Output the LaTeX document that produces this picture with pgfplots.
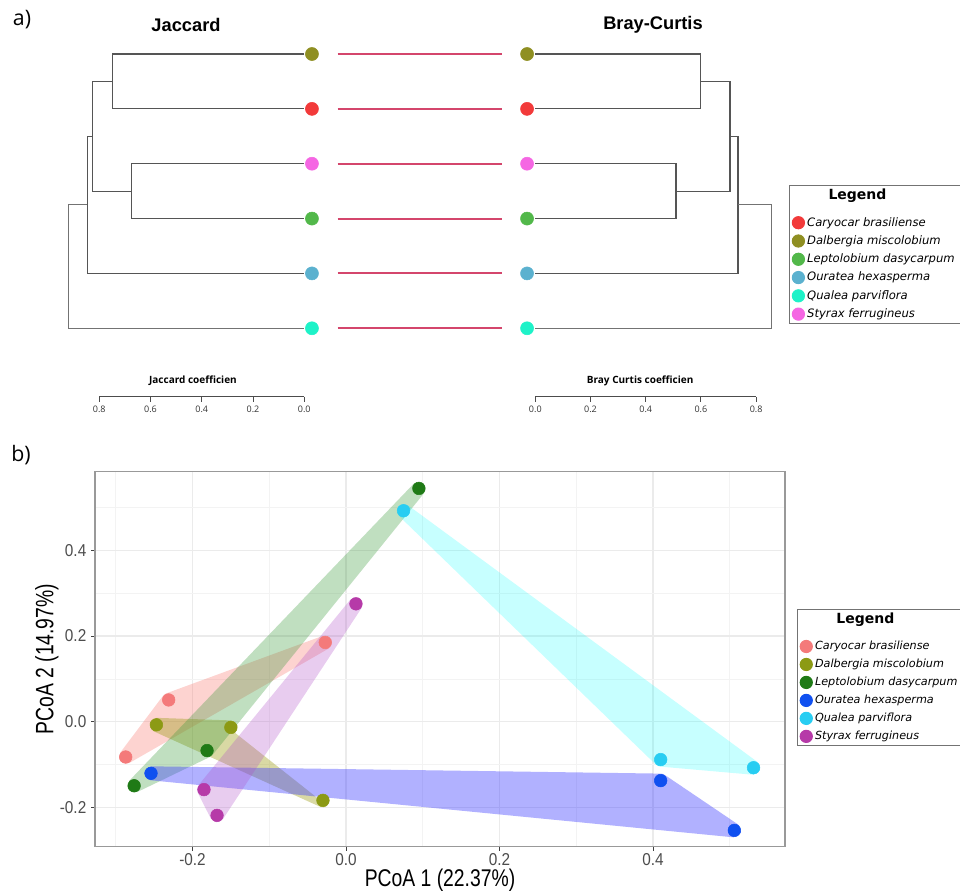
\documentclass[border=0pt]{standalone}
\usepackage{graphicx}
\usepackage{pgfplots}
\pgfplotsset{compat=1.18}
\usepackage{fontspec}
\setmainfont{Liberation Sans}
\newfontfamily\opensans{Open Sans}
\newfontfamily\dejavu{DejaVu Sans}[ItalicFont={DejaVu Sans Oblique},BoldFont={DejaVu Sans Bold}]

% top (dendrogram) colours
\definecolor{tcar}{HTML}{F23A3A}
\definecolor{tdal}{HTML}{8F8F22}
\definecolor{tlep}{HTML}{52B84A}
\definecolor{tour}{HTML}{5BB1CF}
\definecolor{tqua}{HTML}{1EF2C8}
\definecolor{tsty}{HTML}{F566E3}
\definecolor{redline}{HTML}{D4466C}
\definecolor{dendro}{HTML}{555555}
% bottom (PCoA) colours
\definecolor{bcar}{HTML}{F47A7A}
\definecolor{bdal}{HTML}{8C9A14}
\definecolor{blep}{HTML}{1F7A16}
\definecolor{bour}{HTML}{1050F0}
\definecolor{bqua}{HTML}{28CDF2}
\definecolor{bsty}{HTML}{B63AA8}
\definecolor{fcar}{HTML}{F8766D}
\definecolor{fdal}{HTML}{9A9A10}
\definecolor{flep}{HTML}{3C9A3C}
\definecolor{four}{HTML}{3B3BFF}
\definecolor{fqua}{HTML}{00FFFF}
\definecolor{fsty}{HTML}{B050C8}
\definecolor{gridmaj}{HTML}{EBEBEB}
\definecolor{gridmin}{HTML}{F3F3F3}

\pgfplotsset{
  dendro/.style={color=dendro, line width=0.9pt, forget plot},
  rline/.style={color=redline, line width=1.4pt, forget plot},
  leaf/.style={only marks, mark=*, mark size=4.9pt, mark options={draw=none, fill=#1}, color=#1},
  pt/.style={only marks, mark=*, mark size=4.75pt, mark options={draw=none, fill=#1}, color=#1},
  hull/.style 2 args={fill=#1, fill opacity=#2, draw=none, forget plot},
  dlegend/.style={
    legend cell align=left,
    legend image code/.code={\draw[##1, mark size=4.6pt] plot coordinates {(0pt,0pt)};},
    legend style={draw=black!55, line width=0.7pt, fill=white, inner xsep=2pt, inner ysep=0.8pt,
      row sep=1.6pt, font=\dejavu\itshape\fontsize{8.7}{9.5}\selectfont,
      /tikz/every even column/.append style={column sep=2.5pt}},
  },
  dscale/.style={
    scale only axis, clip=false,
    axis x line=bottom, axis y line=none,
    xmin=0, xmax=0.8, ymin=-0.247, ymax=6,
    xtick={0,0.2,0.4,0.6,0.8}, tick align=outside, major tick length=3.75pt,
    x axis line style={-, line width=0.7pt, color=black!70},
    xtick style={color=black!70, line width=0.7pt},
    xticklabel style={font=\opensans\fontsize{6.75}{8}\selectfont, color=black!80},
    /pgf/number format/fixed, /pgf/number format/fixed zerofill,
    /pgf/number format/precision=1, /pgf/number format/assume math mode=true,
    xlabel style={font=\opensans\bfseries\fontsize{7.5}{9}\selectfont,
      at={(axis description cs:0.5,0)}, anchor=center, yshift=11.8pt},
  },
}
\newcommand{\legtitle}{\hspace*{16pt}\raisebox{6pt}{\normalfont\dejavu\bfseries\fontsize{10.5}{12}\selectfont Legend}}

\begin{document}
\begin{tikzpicture}
\useasboundingbox (0pt,0pt) rectangle (720pt,-667.5pt);

\node[font=\opensans\fontsize{16}{18}\selectfont] at (16.5pt,-15pt) {a)};
\node[font=\opensans\fontsize{16}{18}\selectfont] at (15.75pt,-341.25pt) {b)};
\node[font=\bfseries\fontsize{13.7}{16}\selectfont] at (139.5pt,-18.75pt) {Jaccard};
\node[font=\bfseries\fontsize{13.7}{16}\selectfont] at (489.75pt,-18.75pt) {Bray-Curtis};

% ---------------- Jaccard dendrogram ----------------
\begin{axis}[dscale,
  at={(228.2pt,-297.5pt)}, anchor=south east,
  width=153.75pt, height=257pt, x dir=reverse,
  xlabel={Jaccard coefficien}, xlabel style={xshift=-6.6pt}]
\addplot[dendro] coordinates {(0,6)(0.749,6)(0.749,5)(0,5)};
\addplot[dendro] coordinates {(0,4)(0.675,4)(0.675,3)(0,3)};
\addplot[dendro] coordinates {(0.749,5.5)(0.827,5.5)(0.827,3.5)(0.675,3.5)};
\addplot[dendro] coordinates {(0.827,4.5)(0.847,4.5)(0.847,2)(0,2)};
\addplot[dendro, line width=0.6pt, color=black!55] coordinates {(0.847,3.25)(0.919,3.25)(0.919,1)(0,1)};
\addplot[rline] coordinates {(-0.130,6)(-0.773,6)};
\addplot[rline] coordinates {(-0.130,5)(-0.773,5)};
\addplot[rline] coordinates {(-0.130,4)(-0.773,4)};
\addplot[rline] coordinates {(-0.130,3)(-0.773,3)};
\addplot[rline] coordinates {(-0.130,2)(-0.773,2)};
\addplot[rline] coordinates {(-0.130,1)(-0.773,1)};
\addplot[leaf=tdal] coordinates {(-0.03,6)};
\addplot[leaf=tcar] coordinates {(-0.03,5)};
\addplot[leaf=tsty] coordinates {(-0.03,4)};
\addplot[leaf=tlep] coordinates {(-0.03,3)};
\addplot[leaf=tour] coordinates {(-0.03,2)};
\addplot[leaf=tqua] coordinates {(-0.03,1)};
\end{axis}

% ---------------- Bray-Curtis dendrogram ----------------
\begin{axis}[dscale, dlegend,
  at={(401.5pt,-297.5pt)}, anchor=south west,
  width=165.6pt, height=257pt,
  xlabel={Bray Curtis coefficien}, xlabel style={xshift=-4.2pt},
  legend style={at={(1.1495,0.6177)}, anchor=north west}]
\addplot[dendro] coordinates {(0,6)(0.599,6)(0.599,5)(0,5)};
\addplot[dendro] coordinates {(0,4)(0.510,4)(0.510,3)(0,3)};
\addplot[dendro] coordinates {(0.599,5.5)(0.705,5.5)(0.705,3.5)(0.510,3.5)};
\addplot[dendro] coordinates {(0.705,4.5)(0.734,4.5)(0.734,2)(0,2)};
\addplot[dendro, line width=0.6pt, color=black!55] coordinates {(0.734,3.25)(0.856,3.25)(0.856,1)(0,1)};
\addlegendimage{empty legend}
\addlegendentry{\legtitle}
\addplot[leaf=tcar] coordinates {(-0.03,5)}; \addlegendentry{Caryocar brasiliense}
\addplot[leaf=tdal] coordinates {(-0.03,6)}; \addlegendentry{Dalbergia miscolobium}
\addplot[leaf=tlep] coordinates {(-0.03,3)}; \addlegendentry{Leptolobium dasycarpum}
\addplot[leaf=tour] coordinates {(-0.03,2)}; \addlegendentry{Ouratea hexasperma}
\addplot[leaf=tqua] coordinates {(-0.03,1)}; \addlegendentry{Qualea parviflora}
\addplot[leaf=tsty] coordinates {(-0.03,4)}; \addlegendentry{Styrax ferrugineus}
\end{axis}

% ---------------- PCoA ----------------
\begin{axis}[dlegend,
  at={(71.25pt,-635pt)}, anchor=south west, scale only axis,
  width=517.5pt, height=281.25pt,
  xmin=-0.327, xmax=0.572, ymin=-0.291, ymax=0.583,
  xtick={-0.2,0,0.2,0.4}, ytick={-0.2,0,0.2,0.4},
  minor xtick={-0.3,-0.1,0.1,0.3,0.5}, minor ytick={-0.1,0.1,0.3,0.5},
  xtick pos=lower, ytick pos=left,
  grid=both,
  major grid style={color=gridmaj, line width=0.9pt},
  minor grid style={color=gridmin, line width=0.5pt},
  axis line style={color=black!40, line width=0.8pt},
  tick align=outside, major tick length=3pt, minor tick length=0pt,
  tick style={color=black!75, line width=0.6pt},
  ticklabel style={font=\fontsize{11.5}{13}\selectfont, color=black!70},
  xticklabel style={yshift=1.5pt},
  /pgf/number format/fixed, /pgf/number format/fixed zerofill,
  /pgf/number format/precision=1, /pgf/number format/assume math mode=true,
  xticklabel={\scalebox{1}[1.12]{\pgfmathprintnumber{\tick}}},
  yticklabel={\scalebox{1}[1.12]{\pgfmathprintnumber{\tick}}},
  xlabel={\scalebox{1}[1.25]{PCoA 1 (22.37\%)}},
  xlabel style={font=\fontsize{14.5}{17}\selectfont, at={(axis description cs:0.5,0)}, anchor=center, yshift=-25pt},
  ylabel={\scalebox{1}[1.3]{PCoA 2 (14.97\%)}},
  ylabel style={font=\fontsize{14.5}{17}\selectfont, at={(axis description cs:-0.0696,0.5)}, anchor=center},
  legend style={at={(1.0174,0.634)}, anchor=north west, font=\dejavu\itshape\fontsize{8.4}{9.5}\selectfont}]
% hulls (expanded convex hulls of each group)
\addplot[hull={fcar}{0.32}] coordinates {(-0.2943,-0.0722)(-0.2938,-0.0928)(-0.2825,-0.0962)(-0.0225,0.1709)(-0.0188,0.1920)(-0.0302,0.2003)(-0.2342,0.0663)(-0.2364,0.0641)(-0.2383,0.0608)};
\addplot[hull={fdal}{0.38}] coordinates {(-0.2467,0.0093)(-0.2559,-0.0033)(-0.2508,-0.0219)(-0.0338,-0.1979)(-0.0289,-0.1992)(-0.0244,-0.1958)(-0.1444,-0.0258)(-0.1413,-0.0079)(-0.1497,0.0033)};
\addplot[hull={flep}{0.32}] coordinates {(-0.2826,-0.1377)(-0.2834,-0.1586)(-0.2720,-0.1637)(-0.1770,-0.0817)(-0.1753,-0.0798)(-0.1739,-0.0773)(0.1021,0.5338)(0.1010,0.5563)(0.0884,0.5553)};
\addplot[hull={four}{0.4}] coordinates {(-0.2539,-0.1037)(-0.2631,-0.1190)(-0.2549,-0.1362)(0.5051,-0.2692)(0.5146,-0.2585)(0.5111,-0.2395)(0.4151,-0.1235)(0.4127,-0.1214)(0.4101,-0.1207)};
\addplot[hull={fqua}{0.22}] coordinates {(0.0804,0.5052)(0.0680,0.5025)(0.0687,0.4803)(0.4037,-0.0997)(0.4062,-0.1029)(0.4092,-0.1043)(0.5302,-0.1233)(0.5395,-0.1127)(0.5364,-0.0939)};
\addplot[hull={fsty}{0.29}] coordinates {(0.0206,0.2660)(0.0184,0.2881)(0.0059,0.2853)(-0.1921,-0.1477)(-0.1941,-0.1563)(-0.1931,-0.1654)(-0.1761,-0.2254)(-0.1685,-0.2343)(-0.1604,-0.2270)};
% legend title
\addlegendimage{empty legend}
\addlegendentry{\legtitle}
% points
\addplot[pt=bcar] coordinates {(-0.287,-0.082)(-0.231,0.051)(-0.027,0.185)}; \addlegendentry{Caryocar brasiliense}
\addplot[pt=bdal] coordinates {(-0.247,-0.007)(-0.150,-0.013)(-0.030,-0.183)}; \addlegendentry{Dalbergia miscolobium}
\addplot[pt=blep] coordinates {(-0.276,-0.149)(-0.181,-0.067)(0.095,0.544)}; \addlegendentry{Leptolobium dasycarpum}
\addplot[pt=bour] coordinates {(-0.254,-0.120)(0.410,-0.137)(0.506,-0.253)}; \addlegendentry{Ouratea hexasperma}
\addplot[pt=bqua] coordinates {(0.075,0.492)(0.410,-0.088)(0.531,-0.107)}; \addlegendentry{Qualea parviflora}
\addplot[pt=bsty] coordinates {(0.013,0.275)(-0.185,-0.158)(-0.168,-0.218)}; \addlegendentry{Styrax ferrugineus}
\end{axis}
\end{tikzpicture}
\end{document}
